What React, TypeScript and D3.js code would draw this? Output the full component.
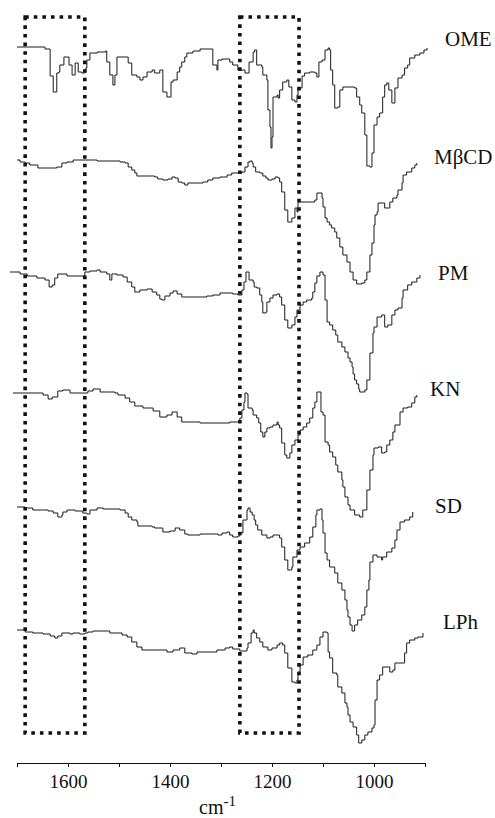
import React, { useEffect, useRef } from 'react';
import * as d3 from 'd3';

// spectra: [wavenumber (cm-1), transmittance (a.u.)]
const ome: [number, number][] = [
  [1700,100],[1649,100],[1645,98],[1635,71],[1629,55],[1622,74],[1618,75],[1616,82],[1608,90],[1598,82],
  [1592,72],[1586,84],[1580,75],[1573,74],[1567,75],[1565,79],[1563,87],[1557,94],[1543,95],[1526,96],
  [1524,85],[1518,72],[1512,62],[1508,72],[1504,90],[1484,90],[1482,84],[1475,72],[1465,70],[1459,67],
  [1453,70],[1445,75],[1435,77],[1430,74],[1420,77],[1414,55],[1406,50],[1398,65],[1394,67],[1386,75],
  [1381,80],[1377,85],[1371,90],[1367,94],[1355,96],[1341,98],[1322,98],[1316,82],[1308,77],[1306,87],
  [1298,88],[1283,85],[1277,82],[1267,77],[1253,74],[1245,85],[1237,95],[1234,97],[1230,82],[1220,80],
  [1218,72],[1210,67],[1208,37],[1204,20],[1202,-1],[1200,10],[1198,50],[1190,52],[1188,49],[1185,57],
  [1179,65],[1171,67],[1167,60],[1161,47],[1155,45],[1151,52],[1149,59],[1141,71],[1136,74],[1126,75],
  [1116,74],[1112,70],[1108,85],[1102,87],[1096,97],[1090,99],[1087,97],[1085,77],[1081,62],[1077,39],
  [1071,40],[1067,57],[1061,60],[1047,60],[1038,59],[1034,50],[1028,42],[1024,34],[1018,12],[1014,-19],
  [1008,-20],[1004,-6],[1000,22],[994,30],[989,34],[983,50],[979,62],[975,64],[971,57],[965,44],
  [959,59],[953,69],[945,72],[940,79],[934,82],[930,89],[920,92],[910,94],[902,97],[896,99],
];

const mbcd: [number, number][] = [
  [1700,100],[1694,98],[1684,97],[1675,95],[1659,92],[1631,92],[1622,93],[1612,97],[1602,98],[1590,100],
  [1543,99],[1518,99],[1498,98],[1488,97],[1482,93],[1475,90],[1469,87],[1465,84],[1430,83],[1424,81],
  [1414,80],[1404,81],[1396,83],[1390,82],[1384,78],[1377,77],[1371,75],[1365,77],[1335,78],[1326,80],
  [1316,82],[1302,83],[1288,85],[1279,87],[1259,88],[1253,93],[1247,98],[1243,99],[1239,97],[1237,93],
  [1232,88],[1224,87],[1218,84],[1212,82],[1208,80],[1200,81],[1194,83],[1188,82],[1185,78],[1181,68],
  [1175,50],[1169,38],[1161,42],[1155,52],[1151,48],[1149,58],[1116,60],[1112,67],[1102,62],[1100,53],
  [1096,42],[1092,38],[1087,35],[1083,32],[1077,28],[1073,22],[1067,13],[1061,5],[1053,-2],[1047,-12],
  [1041,-20],[1034,-24],[1024,-23],[1018,-20],[1014,-12],[1008,5],[1004,17],[1000,35],[998,45],[994,48],
  [992,57],[979,52],[969,58],[963,62],[955,65],[953,70],[945,77],[943,85],[936,88],[926,92],
  [920,95],[916,97],
];

const pm: [number, number][] = [
  [1714,100],[1694,98],[1680,96],[1661,94],[1645,92],[1637,85],[1631,87],[1626,94],[1620,98],[1602,96],
  [1567,100],[1557,101],[1543,102],[1537,100],[1524,98],[1518,92],[1514,98],[1504,97],[1492,95],[1484,90],
  [1475,85],[1469,80],[1459,82],[1445,83],[1435,80],[1426,77],[1420,73],[1416,72],[1410,76],[1400,79],
  [1394,81],[1386,78],[1377,75],[1328,76],[1316,77],[1302,79],[1277,78],[1267,77],[1259,82],[1255,90],
  [1251,100],[1245,92],[1237,90],[1235,85],[1230,84],[1224,77],[1220,70],[1218,59],[1212,60],[1210,70],
  [1204,74],[1198,77],[1190,78],[1185,75],[1181,67],[1175,52],[1169,44],[1161,47],[1155,55],[1151,62],
  [1145,67],[1139,70],[1132,72],[1122,74],[1120,80],[1116,89],[1112,96],[1106,100],[1100,97],[1096,72],
  [1092,50],[1087,47],[1081,42],[1075,37],[1071,30],[1063,25],[1057,20],[1051,14],[1047,10],[1043,5],
  [1041,-2],[1038,-8],[1034,-12],[1030,-17],[1028,-20],[1018,-18],[1014,-8],[1008,19],[1002,39],[1000,45],
  [994,55],[985,57],[979,45],[973,47],[965,57],[959,62],[953,64],[945,74],[943,82],[934,87],
  [926,90],[916,94],[910,97],
];

const kn: [number, number][] = [
  [1708,100],[1655,100],[1649,98],[1639,94],[1631,96],[1620,102],[1610,103],[1596,100],[1571,100],[1561,102],
  [1551,104],[1537,101],[1508,100],[1502,98],[1488,95],[1479,91],[1469,87],[1453,85],[1433,82],[1420,76],
  [1406,78],[1396,81],[1386,76],[1377,71],[1341,70],[1283,71],[1267,71],[1263,75],[1259,83],[1255,91],
  [1253,100],[1249,99],[1247,85],[1239,83],[1237,78],[1230,75],[1226,70],[1222,61],[1218,56],[1214,61],
  [1210,65],[1204,66],[1198,68],[1190,71],[1188,68],[1185,65],[1181,50],[1175,38],[1171,35],[1165,40],
  [1161,48],[1155,53],[1149,58],[1145,63],[1139,66],[1132,70],[1126,75],[1120,85],[1116,91],[1112,101],
  [1104,81],[1100,78],[1096,51],[1090,48],[1087,41],[1081,36],[1075,28],[1071,21],[1063,13],[1061,6],
  [1057,-4],[1051,-12],[1047,-17],[1038,-22],[1028,-24],[1022,-17],[1014,3],[1008,23],[1002,38],[1000,45],
  [992,46],[985,40],[979,41],[975,48],[969,53],[963,61],[959,68],[949,81],[943,85],[934,86],
  [926,90],[920,96],[916,98],
];

const sd: [number, number][] = [
  [1700,100],[1684,99],[1669,97],[1639,96],[1629,94],[1620,90],[1612,92],[1610,95],[1602,97],[1586,96],
  [1571,94],[1563,93],[1557,97],[1543,99],[1531,98],[1498,97],[1488,94],[1482,90],[1475,87],[1465,85],
  [1463,81],[1435,80],[1430,79],[1414,75],[1400,76],[1390,79],[1381,77],[1371,73],[1365,72],[1341,73],
  [1306,72],[1298,74],[1288,75],[1283,72],[1277,70],[1267,71],[1263,74],[1257,87],[1249,97],[1247,99],
  [1243,95],[1239,92],[1235,87],[1232,82],[1228,77],[1220,72],[1210,69],[1204,70],[1198,72],[1185,69],
  [1181,60],[1175,47],[1169,37],[1161,40],[1159,50],[1151,57],[1145,60],[1136,64],[1126,70],[1120,80],
  [1114,92],[1112,97],[1106,98],[1102,87],[1100,74],[1096,54],[1092,47],[1087,40],[1077,34],[1071,24],
  [1063,17],[1057,7],[1053,-3],[1051,-10],[1047,-18],[1043,-24],[1038,-18],[1032,-13],[1024,-8],[1018,0],
  [1014,17],[1010,27],[1008,45],[1002,52],[994,50],[985,47],[983,50],[975,55],[965,59],[959,67],
  [955,77],[949,85],[940,87],[930,90],[924,95],
];

const lph: [number, number][] = [
  [1700,100],[1684,98],[1669,97],[1649,96],[1635,94],[1626,92],[1620,94],[1612,97],[1596,96],[1590,97],
  [1577,96],[1567,97],[1561,98],[1551,99],[1518,97],[1494,95],[1484,93],[1475,88],[1465,83],[1455,80],
  [1406,78],[1394,80],[1381,82],[1371,77],[1357,76],[1347,78],[1308,80],[1292,82],[1283,83],[1277,81],
  [1263,79],[1249,82],[1247,87],[1241,97],[1237,100],[1235,97],[1230,92],[1224,88],[1218,83],[1208,80],
  [1200,82],[1190,85],[1185,87],[1179,85],[1175,77],[1169,62],[1161,48],[1155,47],[1151,50],[1149,58],
  [1145,65],[1139,73],[1130,75],[1120,80],[1112,85],[1106,93],[1100,98],[1092,97],[1090,78],[1087,72],
  [1081,57],[1073,55],[1071,43],[1063,37],[1057,27],[1053,23],[1051,15],[1047,8],[1041,3],[1034,-5],
  [1030,-13],[1024,-10],[1018,-5],[1012,-2],[1004,2],[1000,5],[998,30],[994,50],[989,55],[983,63],
  [969,58],[963,60],[959,67],[940,77],[936,87],[930,90],[920,92],[914,93],[904,97],
];

const series = [ome, mbcd, pm, kn, sd, lph];
const labels = ['OME', 'MβCD', 'PM', 'KN', 'SD', 'LPh'];
const ticks = [1700, 1600, 1500, 1400, 1300, 1200, 1100, 1000, 900];
const tickLabels = [1600, 1400, 1200, 1000];
// highlighted bands (cm-1)
const boxes: [number, number][] = [[1684, 1567], [1263, 1147]];

const W = 495;
const H = 818;

const App = () => {
  const svgRef = useRef<SVGSVGElement>(null);

  useEffect(() => {
    const svg = d3.select(svgRef.current);
    svg.selectAll('*').remove();

    const font = '"Liberation Serif", "Times New Roman", serif';

    const x = d3.scaleLinear().domain([1700, 900]).range([17, 425]);
    // 100 a.u. at the top of each trace, 1 a.u. per pixel
    const y = d3.scaleLinear().domain([100, 0]).range([0, 100]);
    const offsets = [47, 160, 272, 393, 507, 630];
    const labelX = [445, 434, 438, 430, 435, 443];
    const labelY = [46, 164, 280, 396, 513, 629];

    const line = d3.line<[number, number]>()
      .x(d => x(d[0]))
      .y(d => y(d[1]))
      .curve(d3.curveStepAfter);

    // dotted boxes
    svg.append('g')
      .selectAll('rect')
      .data(boxes)
      .enter()
      .append('rect')
      .attr('x', d => x(d[0]))
      .attr('width', d => x(d[1]) - x(d[0]))
      .attr('y', 17)
      .attr('height', 716)
      .attr('fill', 'none')
      .attr('stroke', '#111')
      .attr('stroke-width', 3.6)
      .attr('stroke-dasharray', '3.6,5');

    // spectra
    const g = svg.append('g');
    series.forEach((s, i) => {
      g.append('path')
        .datum(s)
        .attr('transform', `translate(0,${offsets[i]})`)
        .attr('fill', 'none')
        .attr('stroke', '#1a1a1a')
        .attr('stroke-width', 1)
        .attr('d', line);

      g.append('text')
        .attr('x', labelX[i])
        .attr('y', labelY[i])
        .attr('font-family', font)
        .attr('font-size', 21)
        .attr('fill', '#111')
        .text(labels[i]);
    });

    // x axis
    const axis = svg.append('g')
      .attr('transform', 'translate(0,763)')
      .call(
        d3.axisBottom(x)
          .tickValues(ticks)
          .tickSize(4)
          .tickSizeOuter(0)
          .tickPadding(8)
          .tickFormat(d => (tickLabels.includes(+d) ? String(d) : ''))
      );
    axis.select('.domain').attr('stroke', '#111');
    axis.selectAll('.tick line').attr('stroke', '#111');
    axis.selectAll('.tick text')
      .attr('font-family', font)
      .attr('font-size', 19)
      .attr('fill', '#111');

    const title = svg.append('text')
      .attr('x', 199)
      .attr('y', 814)
      .attr('font-family', font)
      .attr('font-size', 20)
      .attr('fill', '#111');
    title.append('tspan').text('cm');
    title.append('tspan').attr('dy', -8).attr('font-size', 15).text('-1');
  }, []);

  return (
    <>
      <style>{'body{margin:0}'}</style>
      <svg ref={svgRef} width={W} height={H} style={{ display: 'block', background: '#fff' }} />
    </>
  );
};

export default App;
